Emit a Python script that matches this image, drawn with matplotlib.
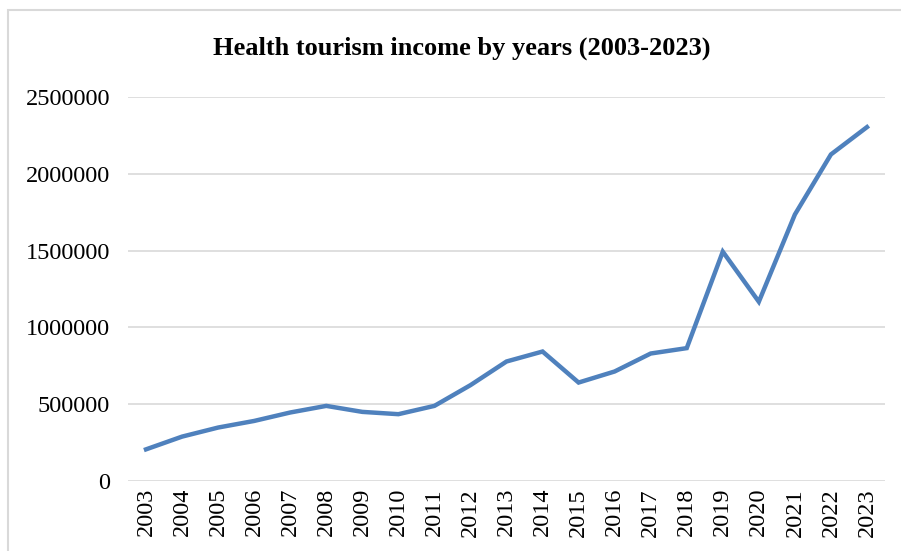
import matplotlib
matplotlib.use('Agg')
import matplotlib.pyplot as plt
from matplotlib.patches import Rectangle

years = [str(y) for y in range(2003, 2024)]
income = [206000, 289000, 348000, 391000, 446000, 489000, 450000, 435000,
          489000, 624000, 778000, 843000, 641000, 713000, 830000, 865000,
          1493000, 1167000, 1735000, 2126000, 2304000]
yticks = [0, 500000, 1000000, 1500000, 2000000, 2500000]

plt.rcParams['font.family'] = ['Liberation Serif', 'DejaVu Serif']

fig = plt.figure(figsize=(9.01, 5.51), dpi=100)
# chart frame like the Excel chart area
fig.patches.append(Rectangle((8 / 901, -0.05), 1.0, 1 - 10 / 551 + 0.05,
                             transform=fig.transFigure, fill=False,
                             edgecolor='#D9D9D9', linewidth=1.5))

ax = fig.add_axes([128 / 901, 1 - 481 / 551, (885 - 128) / 901, (481 - 97) / 551])
x = range(len(years))
ax.plot(x, income, color='#4F81BD', linewidth=3.2, solid_joinstyle='miter')

ax.set_xlim(-0.5, len(years) - 0.5)
ax.set_ylim(0, 2500000)
ax.set_yticks(yticks)
ax.set_yticklabels([str(v) for v in yticks])
ax.set_xticks(list(x))
ax.set_xticklabels(years, rotation=90)
ax.grid(axis='y', color='#D9D9D9', linewidth=1.2)
ax.set_axisbelow(True)
for s in ax.spines.values():
    s.set_visible(False)
ax.tick_params(axis='both', length=0, labelsize=17.5, colors='black')
ax.tick_params(axis='y', pad=13)
ax.tick_params(axis='x', pad=5)

fig.text(0.513, 1 - 48 / 551, 'Health tourism income by years (2003-2023)',
         ha='center', va='center', fontsize=19, fontweight='bold')

fig.savefig('out.png', dpi=100)
